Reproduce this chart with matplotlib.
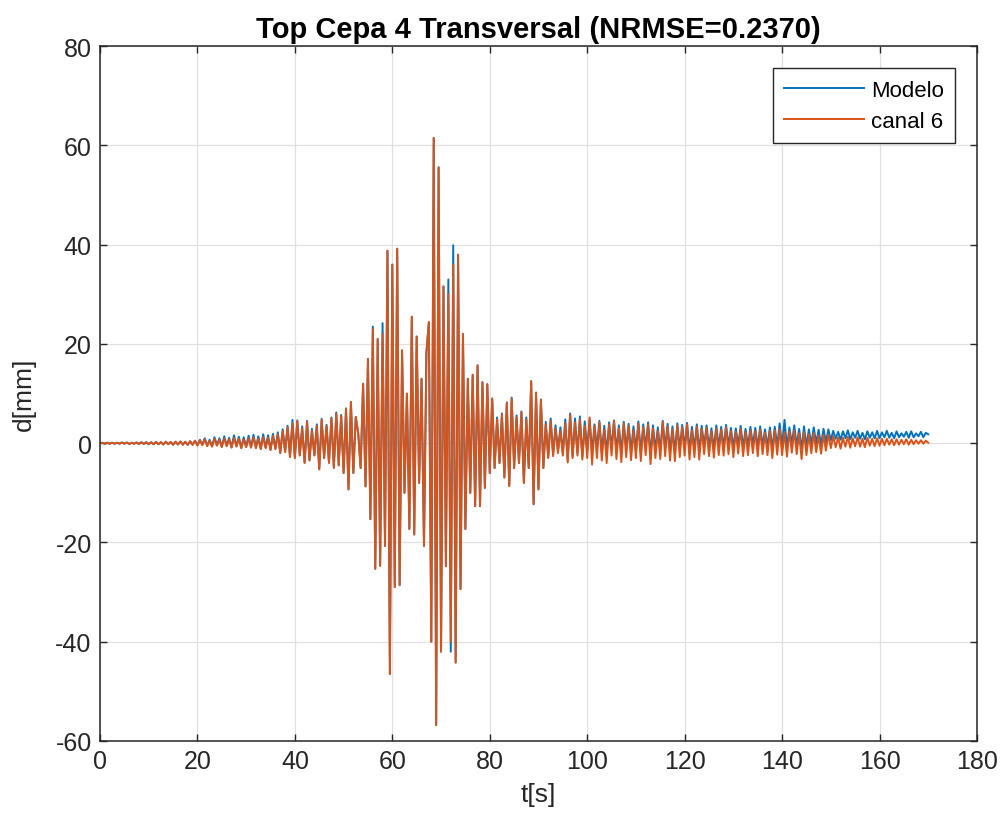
import numpy as np
import matplotlib
matplotlib.use('Agg')
import matplotlib.pyplot as plt

# peak/valley values, one every 0.5 s (rows of 10 s)
dt = 0.5

canal6 = [
    0, 0.1, -0.1, 0.1, -0.1, 0.1, -0.1, 0.1, -0.1, 0.15, -0.1, 0.15, -0.15, 0.1, -0.1, 0.15, -0.15, 0.2, -0.15, 0.2,
    -0.2, 0.2, -0.2, 0.25, -0.2, 0.2, -0.25, 0.3, -0.2, 0.25, -0.3, 0.3, -0.25, 0.35, -0.3, 0.3, -0.35, 0.4, -0.3, 0.5,
    -0.5, 0.6, -0.4, 0.8, -0.6, 0.5, -0.7, 0.9, -0.5, 0.7, -0.8, 1.0, -0.6, 0.8, -0.9, 1.1, -0.7, 0.9, -1.0, 0.8,
    -0.8, 1.0, -0.9, 1.2, -1.0, 0.9, -1.2, 1.3, -1.0, 1.1, -1.4, 1.5, -1.2, 1.8, -2.0, 2.5, -1.8, 3.2, -2.8, 4.0,
    -3.0, 4.5, -2.5, 3.0, -4.0, 4.3, -3.5, 2.5, -2.5, 3.5, -5.3, 4.7, -3.0, 3.5, -4.0, 5.0, -5.0, 6.0, -4.5, 5.5,
    -6, 7, -9.3, 8.3, -6, 5.3, 2, -5, 12, -8.7, 17, -15.3, 23, -25.3, 21, -24.7, 22, -20.7, 38.8, -46.5,
    36, -29, 39.2, -28.6, 18.7, -10, 10, -17.3, 25.5, -18.4, 21.5, -8, 13, -20.7, 18.3, 24.4, -40, 61.5, -56.8, 55.6,
    -42, 31.6, -24.8, 30, -40, 36, -44.2, 38, -29.4, 22, -17.3, 13, -10, 13.8, -12.7, 15.7, -12.7, 12.3, -9, 11.9,
    -6, 9, -5, 4.8, -4, 5.8, -6.9, 8.2, -8.6, 9, -5, 5.2, -4, 6.2, -8, 4.8, -5, 12.5, -12.3, 10.2,
    -9.3, 8.8, -5, 3.8, -3, 4.5, -2.6, 3, -2, 2.5, -2.5, 4, -3.9, 5.8, -3, 4.2, -2.5, 4.8, -3.3, 3.5,
    -3, 5.2, -4.3, 3.5, -3, 4.2, -3.5, 2.8, -4, 3.8, -2.5, 4.5, -3.2, 3, -3.8, 4, -2.8, 3.5, -3.4, 2.6,
    -3, 4, -3.6, 3.2, -2.4, 3.8, -4.2, 3, -3, 2.5, -3.2, 4.3, -2.6, 3.4, -3.5, 2.8, -3.6, 3.6, -2.8, 3.2,
    -2.5, 3.8, -3.3, 2.6, -2.8, 3.4, -3.3, 2.9, -2.2, 3.1, -2.6, 2.4, -2.9, 3.0, -2.4, 2.7, -2.5, 3.2, -2.2, 2.5,
    -2.8, 2.3, -2.1, 2.9, -2.6, 2.2, -2.4, 2.6, -2.0, 2.4, -2.6, 2.8, -2.2, 2.1, -2.4, 2.5, -3.0, 2.6, -2.3, 2.9,
    -2.4, 2.2, -2.7, 2.4, -1.9, 2.6, -2.2, 2.0, -3.2, 2.3, -2.4, 1.8, -2.0, 2.1, -1.8, 1.6, -2.1, 1.7, -1.5, 1.8,
    -1.0, 1.4, -0.8, 1.2, -1.1, 1.1, -0.7, 1.3, -0.9, 1.0, -0.6, 1.2, -0.7, 0.9, -0.8, 1.1, -0.5, 0.9, -0.6, 1.0,
    -0.5, 0.9, -0.4, 0.9, -0.3, 0.8, -0.4, 0.8, -0.3, 0.7, -0.2, 0.8, -0.3, 0.7, -0.2, 0.6, -0.1, 0.6, -0.1, 0.5,
    0.1,
]

modelo = [
    0, 0.1, -0.1, 0.1, -0.1, 0.1, -0.1, 0.1, -0.1, 0.15, -0.1, 0.15, -0.15, 0.1, -0.1, 0.15, -0.15, 0.2, -0.15, 0.2,
    -0.2, 0.2, -0.2, 0.25, -0.2, 0.2, -0.25, 0.3, -0.2, 0.25, -0.3, 0.3, -0.25, 0.35, -0.3, 0.3, -0.35, 0.4, -0.3, 0.5,
    -0.4, 0.7, -0.3, 1.0, -0.5, 0.7, -0.6, 1.2, -0.4, 1.0, -0.7, 1.4, -0.5, 1.1, -0.8, 1.6, -0.6, 1.3, -0.9, 1.2,
    -0.7, 1.5, -0.8, 1.7, -0.9, 1.4, -1.1, 1.8, -0.9, 1.6, -1.3, 1.9, -1.1, 2.2, -1.9, 2.8, -1.7, 3.5, -2.7, 4.7,
    -2.9, 4.6, -2.4, 3.4, -3.9, 4.5, -3.4, 2.9, -2.4, 3.8, -5.2, 4.9, -2.9, 3.7, -3.9, 5.2, -4.9, 6.2, -4.4, 5.7,
    -6, 7, -9.3, 8.3, -6, 5.3, 2, -5, 12, -8.7, 17, -15.3, 23.5, -25.3, 21, -24.7, 24.2, -20.7, 38.8, -46.5,
    36, -29, 39.2, -28.6, 18.7, -10, 10, -17.3, 25.5, -18.4, 21.5, -8, 13, -20.7, 18.3, 24.4, -40, 61.5, -56.8, 55.6,
    -42, 31.6, -24.8, 33, -42, 39.9, -44.2, 38, -29.4, 22, -17.3, 13, -10, 13.8, -12.7, 15.7, -12.7, 12.3, -9, 11.9,
    -6, 9, -5, 5.2, -4, 6.0, -6.9, 8.2, -8.6, 9.2, -5, 5.6, -4, 6.4, -8, 5.2, -5, 12.5, -12.3, 10.2,
    -9.3, 8.8, -5, 4.3, -2.8, 5.0, -2.3, 3.6, -1.6, 3.2, -2.0, 4.8, -3.5, 6.0, -2.6, 5.0, -2.0, 5.4, -2.8, 4.4,
    -1.5, 4.8, -2.0, 3.8, -1.2, 4.5, -1.8, 3.5, -2.0, 4.2, -1.0, 4.6, -1.6, 3.6, -2.0, 4.3, -1.2, 3.9, -1.8, 3.4,
    -1.4, 4.4, -2.0, 3.8, -0.9, 4.2, -2.2, 3.6, -1.4, 3.2, -1.6, 4.5, -1.0, 3.9, -1.8, 3.4, -1.9, 4.0, -1.2, 3.7,
    -0.9, 4.1, -1.5, 3.3, -1.1, 3.8, -1.6, 3.5, -0.6, 3.6, -1.0, 3.0, -1.2, 3.6, -0.8, 3.3, -0.9, 3.7, -0.6, 3.1,
    -1.0, 3.0, -0.5, 3.5, -0.9, 2.9, -0.7, 3.3, -0.4, 3.1, -0.9, 3.4, -0.5, 2.8, -0.7, 3.2, -1.2, 3.3, -0.6, 4.0,
    -0.6, 4.7, -0.9, 3.2, -0.2, 3.6, -0.5, 2.9, -1.3, 3.4, -0.6, 2.8, -0.2, 3.2, 0.0, 2.7, -0.3, 2.9, 0.2, 2.8,
    0.6, 2.5, 0.9, 2.3, 0.7, 2.4, 1.0, 2.6, 0.8, 2.2, 1.1, 2.5, 0.9, 2.1, 0.8, 2.4, 1.1, 2.2, 1.0, 2.5,
    1.0, 2.2, 1.2, 2.5, 1.1, 2.1, 1.0, 2.4, 1.2, 2.0, 1.3, 2.3, 1.1, 2.4, 1.2, 2.0, 1.4, 2.3, 1.2, 2.1,
    1.8,
]

t = np.arange(len(canal6)) * dt

plt.rcParams['font.family'] = ['Liberation Sans', 'DejaVu Sans']
plt.rcParams['axes.unicode_minus'] = False
dark = '#262626'

fig = plt.figure(figsize=(10.05, 8.29), dpi=100)
ax = fig.add_axes([0.0995, 0.105, 0.8726, 0.838])

ax.plot(t, modelo, color='#0072BD', lw=1.4, label='Modelo')
ax.plot(t, canal6, color='#D95319', lw=1.4, label='canal 6')

ax.set_xlim(0, 180)
ax.set_ylim(-60, 80)
ax.set_xticks(np.arange(0, 181, 20))
ax.set_yticks(np.arange(-60, 81, 20))
ax.grid(True, color='#e0e0e0', lw=0.9)
ax.set_axisbelow(True)
ax.tick_params(direction='in', top=True, right=True, length=5, width=1,
               labelsize=18, colors=dark, pad=6)
for s in ax.spines.values():
    s.set_color(dark)
    s.set_linewidth(1.1)

ax.set_title('Top Cepa 4 Transversal (NRMSE=0.2370)', fontsize=21,
             fontweight='bold', color='black', pad=7)
ax.set_xlabel('t[s]', fontsize=19, color=dark, labelpad=6)
ax.set_ylabel('d[mm]', fontsize=19, color=dark, labelpad=14)

leg = ax.legend(loc='upper right', fontsize=16, handlelength=3.6,
                fancybox=False, framealpha=1, edgecolor=dark,
                borderaxespad=1.0, borderpad=0.5, labelspacing=0.45,
                handletextpad=0.3)
leg.get_frame().set_linewidth(1.0)

fig.savefig('out.png', dpi=100)
